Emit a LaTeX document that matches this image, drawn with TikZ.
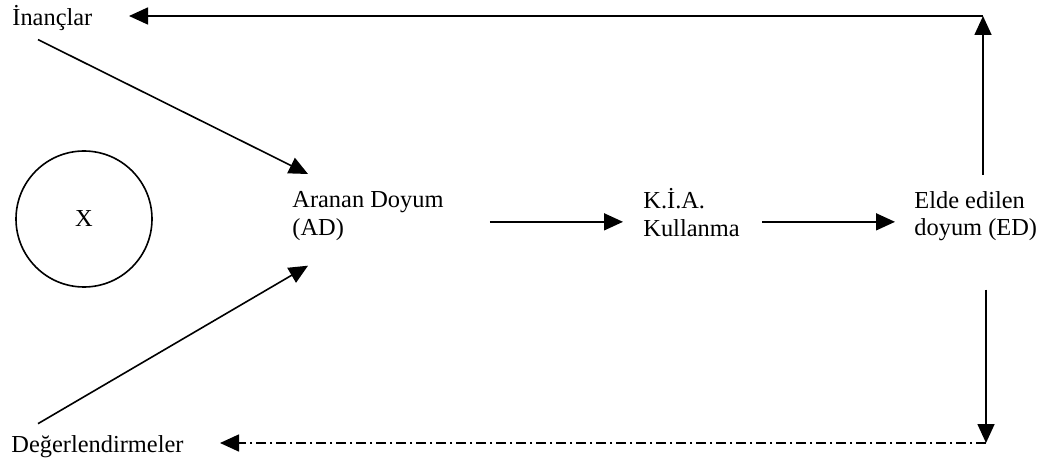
\documentclass[tikz,border=0pt]{standalone}
\usepackage{fontspec}
\setmainfont{Liberation Serif}
\usetikzlibrary{arrows.meta}
\tikzset{
  label text/.style={inner sep=0pt,font=\fontsize{12.2pt}{13.8pt}\selectfont},
  two lines/.style={label text,align=left,anchor=north west},
  flow arrow/.style={-{Triangle[length=9.5pt,width=8.5pt]},line width=0.8pt},
  feedback arrow/.style={flow arrow,dash pattern=on 5pt off 2pt on 1pt off 2pt},
}
\begin{document}
\begin{tikzpicture}[x=0.5pt,y=-0.5pt]
  \useasboundingbox (0,0) rectangle (1052,464);
  \node[label text,anchor=base west] (inanc) at (12,26) {İnançlar};
  \node[label text,anchor=base west] (deger) at (11,452) {Değerlendirmeler};
  \node[label text,draw,circle,line width=0.8pt,minimum size=68pt] (xnode) at (84,219) {X};
  \node[two lines] (ad) at (292,191) {Aranan Doyum\\(AD)};
  \node[two lines] (kia) at (643,188) {K.İ.A.\\Kullanma};
  \node[two lines] (ed) at (914,191) {Elde edilen\\doyum (ED)};
  \coordinate (ad out) at ([xshift=23pt,yshift=-3pt]ad.east);
  \coordinate (kia out) at ([xshift=11pt]ad out -| kia.east);
  \coordinate (top right) at (983,16);
  \coordinate (top left) at (129,16);
  \coordinate (bottom right) at (986,443);
  \coordinate (bottom left) at (220,443);
  \coordinate (ed up) at ([yshift=8pt]ed.north -| top right);
  \coordinate (ed down) at ([yshift=-24pt]ed.south -| bottom right);
  \draw[flow arrow] ([xshift=13pt,yshift=-4pt]inanc.south west) -- ([xshift=8pt,yshift=8.5pt]ad.north west);
  \draw[flow arrow] ([xshift=13.5pt,yshift=5.5pt]deger.north west) -- ([xshift=8pt,yshift=-12.5pt]ad.south west);
  \draw[flow arrow] (ad out) -- ([xshift=-10pt]ad out -| kia.west);
  \draw[flow arrow] (kia out) -- ([xshift=-9.5pt]kia out -| ed.west);
  \draw[flow arrow] (ed up) -- (top right);
  \draw[flow arrow] (top right) -- (top left);
  \draw[flow arrow] (ed down) -- (bottom right);
  \draw[feedback arrow] (bottom right) -- (bottom left);
\end{tikzpicture}
\end{document}
